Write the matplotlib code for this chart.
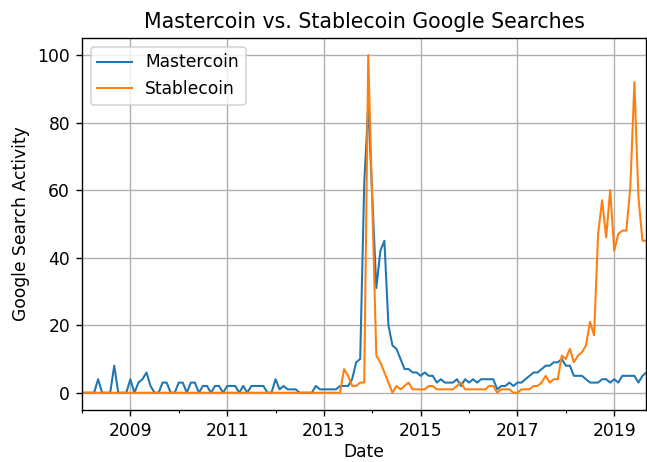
import matplotlib
matplotlib.use("Agg")
import matplotlib.pyplot as plt
import pandas as pd

# monthly google trends values, 2008-01 .. 2019-09
months = pd.date_range("2008-01-01", periods=141, freq="MS")

mastercoin = [
    0, 0, 0, 0, 4, 0, 0, 0, 8, 0, 0, 0,
    4, 0, 3, 4, 6, 2, 0, 0, 3, 3, 0, 0,
    3, 3, 0, 3, 3, 0, 2, 2, 0, 2, 2, 0,
    2, 2, 2, 0, 2, 0, 2, 2, 2, 2, 0, 0,
    4, 1, 2, 1, 1, 1, 0, 0, 0, 0, 2, 1,
    1, 1, 1, 1, 2, 2, 2, 4, 9, 10, 62, 85,
    58, 31, 42, 45, 20, 14, 13, 10, 7, 7, 6, 6,
    5, 6, 5, 5, 3, 4, 3, 3, 3, 4, 2, 4,
    3, 4, 3, 4, 4, 4, 4, 1, 2, 2, 3, 2,
    3, 3, 4, 5, 6, 6, 7, 8, 8, 9, 9, 10,
    8, 8, 5, 5, 5, 4, 3, 3, 3, 4, 4, 3,
    4, 3, 5, 5, 5, 5, 3, 5, 6,
]

stablecoin = [0] * 64 + [
    0, 7, 5, 2, 2, 3, 3, 100,
    55, 11, 9, 6, 3, 0, 2, 1, 2, 3, 1, 1,
    1, 1, 2, 2, 1, 1, 1, 1, 1, 2, 3, 1,
    1, 1, 1, 1, 1, 2, 2, 0, 1, 1, 1, 0,
    0, 1, 1, 1, 2, 2, 3, 5, 3, 4, 4, 11,
    10, 13, 9, 11, 12, 14, 21, 17, 47, 57, 46, 60,
    42, 47, 48, 48, 61, 92, 58, 45, 45,
]

df = pd.DataFrame({"Mastercoin": mastercoin, "Stablecoin": stablecoin},
                  index=pd.Index(months, name="Date"))

dpi = 123
fig = plt.figure(figsize=(647 / dpi, 462 / dpi), dpi=dpi)
ax = fig.add_axes([0.1267, 0.1134, 0.8725, 0.8041])
df.plot(ax=ax, grid=True, lw=1.2)
ax.set_title("Mastercoin vs. Stablecoin Google Searches")
ax.set_ylabel("Google Search Activity")
ax.set_xlabel("Date", labelpad=2)
ax.legend(loc="upper left")

fig.savefig("out.png", dpi=dpi)
